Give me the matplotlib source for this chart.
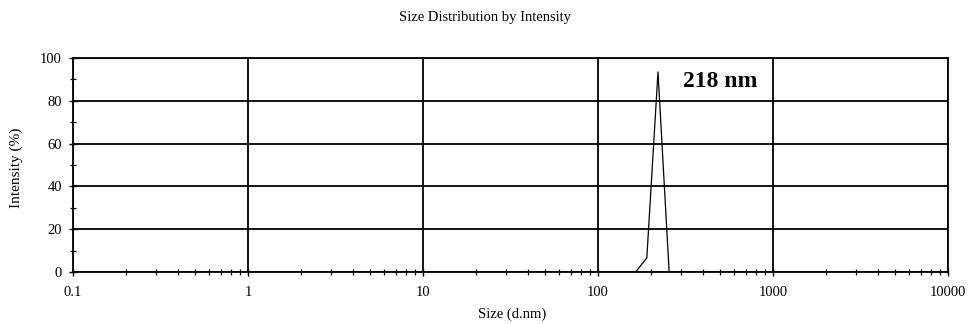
import matplotlib.pyplot as plt
from matplotlib.ticker import LogLocator, FixedLocator, FuncFormatter

# size (d.nm) and intensity (%)
sizes = [164.2, 190.1, 220.2, 255.0]
intensity = [0.0, 6.6, 93.5, 0.0]
peak_label = "218 nm"

x_ticks = [0.1, 1, 10, 100, 1000, 10000]
y_ticks = [0, 20, 40, 60, 80, 100]

plt.rcParams['font.family'] = ['Liberation Serif', 'DejaVu Serif']

fig = plt.figure(figsize=(9.71, 3.24), dpi=100)
ax = fig.add_axes([73 / 971, 1 - 272 / 324, 875 / 971, 214 / 324])

ax.plot(sizes, intensity, color='black', linewidth=0.9, zorder=3)

ax.set_xscale('log')
ax.set_xlim(0.1, 10000)
ax.set_ylim(0, 100)

ax.xaxis.set_major_locator(FixedLocator(x_ticks))
ax.xaxis.set_major_formatter(FuncFormatter(lambda v, p: f"{v:g}"))
ax.xaxis.set_minor_locator(LogLocator(base=10, subs=range(2, 10), numticks=20))
ax.yaxis.set_major_locator(FixedLocator(y_ticks))
ax.yaxis.set_minor_locator(FixedLocator([10, 30, 50, 70, 90]))

ax.grid(True, which='major', color='black', linewidth=1.3)
for s in ax.spines.values():
    s.set_linewidth(1.3)

ax.tick_params(axis='both', which='major', direction='inout', length=6,
               width=1.0, labelsize=10.5, pad=5)
ax.tick_params(axis='both', which='minor', direction='inout', length=5,
               width=0.9)
ax.tick_params(axis='x', which='major', pad=7)

ax.text(305, 88.8, peak_label, fontsize=17, fontweight='bold',
        va='center', ha='left')

fig.text(485 / 971, 1 - 18 / 324, "Size Distribution by Intensity",
         ha='center', va='center', fontsize=10.5)
fig.text(512 / 971, 1 - 314 / 324, "Size (d.nm)",
         ha='center', va='center', fontsize=10.5)
fig.text(16 / 971, 1 - 168 / 324, "Intensity (%)", rotation=90,
         ha='center', va='center', fontsize=11)

fig.savefig('out.png', dpi=100)
